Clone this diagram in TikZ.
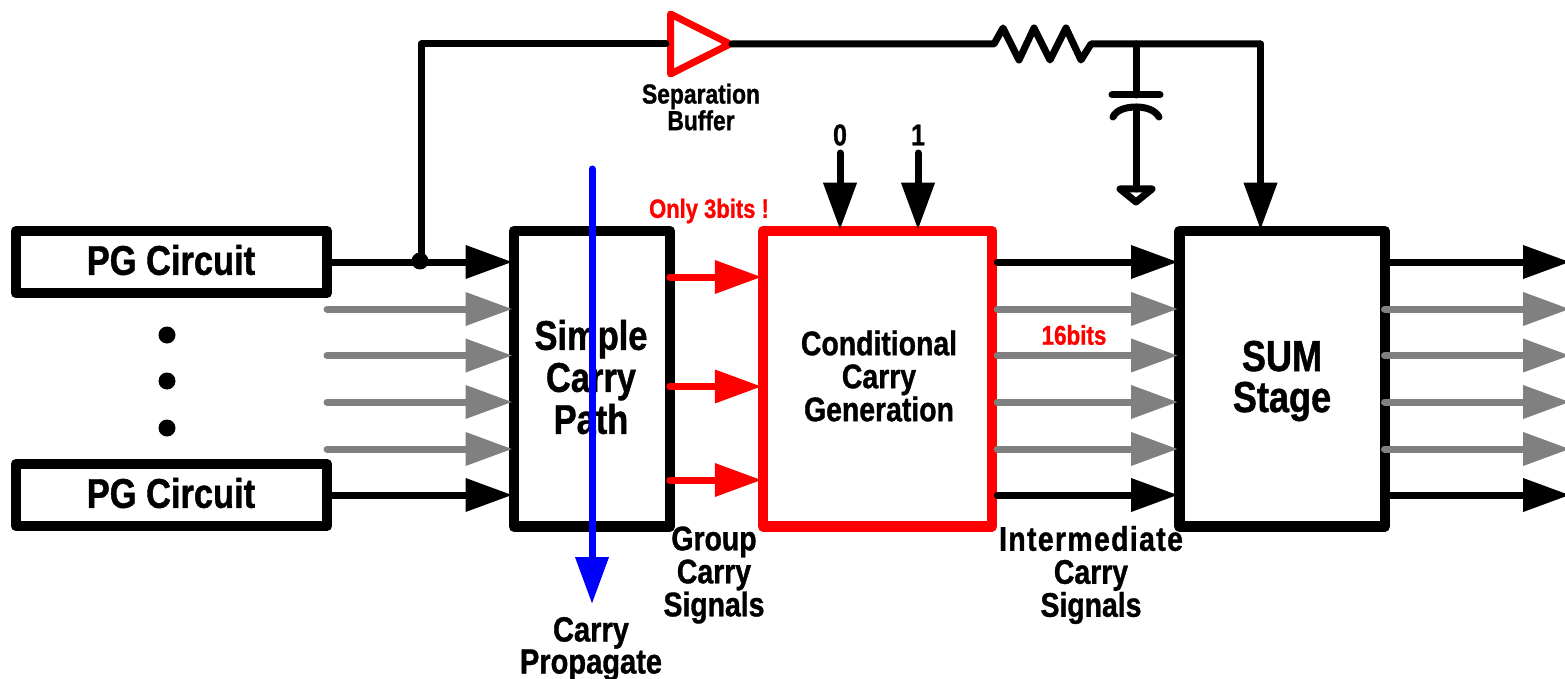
\documentclass[tikz,border=0pt]{standalone}
\usepackage{fontspec}
\setmainfont{Liberation Sans}[FakeStretch=0.83,FakeBold=1]
\usetikzlibrary{arrows.meta,calc}
\definecolor{sigred}{RGB}{255,0,0}
\definecolor{siggray}{RGB}{128,128,128}
\definecolor{sigblue}{RGB}{0,0,255}
\newcommand{\fs}[2]{\fontsize{#1}{#2}\selectfont\bfseries}
\tikzset{
  x=1pt,y=-1pt,
  box/.style={draw=black,line width=10.5pt,line join=round,fill=white,inner sep=0pt},
  sig/.style={line width=7pt,line cap=round,line join=round,shorten >=-4pt,-{Triangle[length=47pt,width=32pt]}},
  blackline/.style={sig,draw=black,fill=black},
  grayline/.style={sig,draw=siggray,fill=siggray},
  redline/.style={sig,draw=sigred,fill=sigred},
  wire/.style={line width=7pt,line cap=round,line join=round,draw=black},
  dotmark/.style={circle,fill=black,inner sep=0pt,minimum size=17pt},
  lab/.style={inner sep=0pt,align=center,text=black},
}
\begin{document}
\begin{tikzpicture}
\useasboundingbox (0,0) rectangle (1565,679);
% rows
\coordinate (g1) at (327,309);
\coordinate (g2) at (327,355.5);
\coordinate (g3) at (327,402);
\coordinate (g4) at (327,449);
\coordinate (rowtop) at (0,262);
\coordinate (rowbot) at (0,495);
\coordinate (outr) at (1566,0);
\coordinate (r1) at (0,277);
\coordinate (r2) at (0,386.5);
\coordinate (r3) at (0,480);
% boxes
\node[box,minimum width=311pt,minimum height=62pt] (pgA) at (171.5,262) {};
\node[box,minimum width=311pt,minimum height=62pt] (pgB) at (171.5,495) {};
\node[box,minimum width=156.3pt,minimum height=295.5pt] (scp) at (591.9,378.75) {};
\node[box,draw=sigred,minimum width=229pt,minimum height=295.5pt] (cond) at (877.5,378.75) {};
\node[box,minimum width=205.5pt,minimum height=295.5pt] (sum) at (1282,378.75) {};
% box texts
\node[lab,font=\fs{41.5}{42}] (pgAt) at (171,260) {PG Circuit};
\node[lab,font=\fs{41.5}{42}] (pgBt) at (171,493) {PG Circuit};
\node[lab,font=\fs{41.5}{42}] (scpt) at (591,377) {Simple\\Carry\\Path};
\node[lab,font=\fs{34.2}{33}] (condt) at (879,376) {Conditional\\Carry\\Generation};
\node[lab,font=\fs{43.5}{41}] (sumt) at (1282,381) {SUM\\Stage};
% dots
\node[dotmark] (d1) at (167,335) {};
\node[dotmark] (d2) at (167,381) {};
\node[dotmark] (d3) at (167,428) {};
% arrows between the blocks
\draw[blackline] (pgA.east) -- (scp.west |- pgA.east);
\draw[blackline] (pgB.east) -- (scp.west |- pgB.east);
\foreach \g in {g1,g2,g3,g4}{
  \draw[grayline] (\g) -- (scp.west |- \g);
  \draw[grayline] (cond.east |- \g) -- (sum.west |- \g);
  \draw[grayline,shorten <=-5.5pt] (sum.east |- \g) -- (outr |- \g);
}
\foreach \r in {r1,r2,r3}{
  \draw[redline,shorten <=-5.5pt] (scp.east |- \r) -- (cond.west |- \r);
}
\foreach \r in {rowtop,rowbot}{
  \draw[blackline] (cond.east |- \r) -- (sum.west |- \r);
  \draw[blackline] (sum.east |- \r) -- (outr |- \r);
}
% feedback path
\node[circle,fill=black,inner sep=0pt,minimum size=17pt] (junc) at (420,261) {};
\coordinate (tl) at (421,44);
\coordinate (bi) at (666,44);
\coordinate (bo) at (732,44);
\coordinate (ra) at (994,44);
\coordinate (rb) at (1091,44);
\coordinate (capt) at (1136,44);
\coordinate (tr) at (1260.5,44);
\draw[line width=7pt,line join=round,draw=sigred] (670.5,14) -- (730,44) -- (670.5,74) -- cycle;
\draw[wire] (tl |- junc) -- (tl) -- (bi);
\draw[wire] (bo) -- (ra) -- (1003,28) -- (1019,60) -- (1034,28) -- (1050,60) -- (1066,28) -- (1081,60) -- (rb) -- (tr);
\draw[blackline] (tr) -- (tr |- sum.north);
% capacitor
\coordinate (capa) at (1136,95);
\coordinate (capb) at (1136,107);
\coordinate (gnd) at (1136,189);
\draw[wire] (capt) -- (capa);
\draw[wire] (1112,95) -- (1160,95);
\draw[wire] (1113,117) .. controls (1116,110) and (1126,107) .. (capb) .. controls (1146,107) and (1155,110) .. (1159,117);
\draw[wire] (capb) -- (gnd);
\draw[wire] (1120,189) -- (1152,189) -- (1136,202) -- cycle;
% constant inputs
\node[lab,font=\fs{30}{30}] (zero) at (840,135) {0};
\node[lab,font=\fs{30}{30}] (one) at (918,135) {1};
\coordinate (zs) at (840,153);
\coordinate (os) at (918,153);
\draw[blackline] (zs) -- (zs |- cond.north);
\draw[blackline] (os) -- (os |- cond.north);
% blue arrow
\coordinate (bs) at (592,169);
\coordinate (be) at (592,600);
\draw[sig,draw=sigblue,fill=sigblue] (bs) -- (be);
% labels
\node[lab,font=\fs{27.5}{24}] (sep) at (701,107) {Separation\\Buffer};
\node[lab,text=sigred,font=\fs{26.5}{25}] (only) at (709,211) {Only 3bits !};
\node[lab,text=sigred,font=\fs{27}{26}] (sixteen) at (1074,335) {16bits};
\node[lab,font=\fs{34.2}{33}] (grp) at (714,575) {Group\\Carry\\Signals};
\node[lab,font=\fs{34.2}{33}] (inter) at (1091,575) {{\addfontfeature{LetterSpace=4}Intermediate}\\Carry\\Signals};
\node[lab,font=\fs{35}{32}] (prop) at (591,649) {Carry\\Propagate};
\end{tikzpicture}
\end{document}
